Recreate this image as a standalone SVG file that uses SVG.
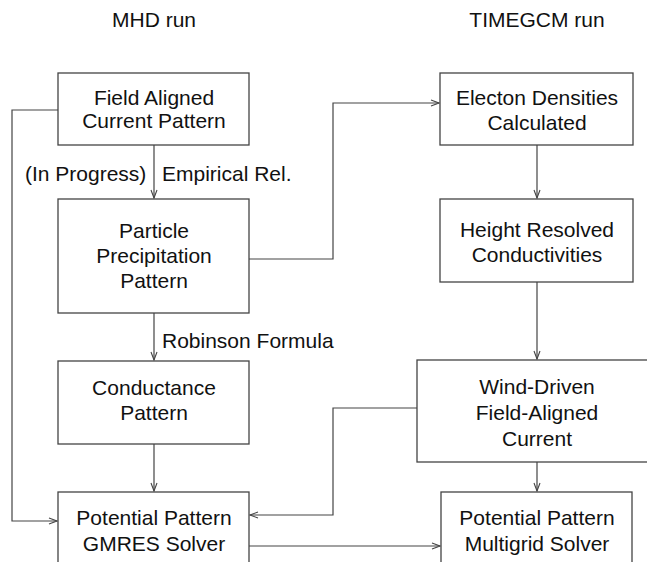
<svg xmlns="http://www.w3.org/2000/svg" width="647" height="562" viewBox="0 0 647 562">
<style>
.box{fill:#fff;stroke:#444;stroke-width:1.3}
.ln{fill:none;stroke:#444;stroke-width:1.2}
text{font-family:"Liberation Sans",Arial,sans-serif;font-size:21px;fill:#111}
.c{text-anchor:middle}
</style>
<defs>
<marker id="ah" markerWidth="10" markerHeight="8" refX="9" refY="4" orient="auto" markerUnits="userSpaceOnUse">
<path d="M1,1 L9,4 L1,7" fill="none" stroke="#444" stroke-width="1.1"/>
</marker>
</defs>
<rect width="647" height="562" fill="#fff"/>
<text class="c" x="154" y="27">MHD run</text>
<text class="c" x="537" y="27">TIMEGCM run</text>
<g id="connectors">
<path class="ln" d="M154,145 V198" marker-end="url(#ah)"/>
<path class="ln" d="M154,313 V360" marker-end="url(#ah)"/>
<path class="ln" d="M154,444 V491" marker-end="url(#ah)"/>
<path class="ln" d="M58,110 H12 V521 H57" marker-end="url(#ah)"/>
<path class="ln" d="M249,259 H333 V103 H439" marker-end="url(#ah)"/>
<path class="ln" d="M537,145 V198" marker-end="url(#ah)"/>
<path class="ln" d="M537,282 V359" marker-end="url(#ah)"/>
<path class="ln" d="M417,408 H333 V515 H250" marker-end="url(#ah)"/>
<path class="ln" d="M537,462 V491" marker-end="url(#ah)"/>
<path class="ln" d="M249,546 H440" marker-end="url(#ah)"/>
<text x="25" y="181">(In Progress)</text>
<text x="162" y="181">Empirical Rel.</text>
<text x="162" y="348">Robinson Formula</text>
</g>
<g id="n-fac">
<rect class="box" x="58" y="73" width="191" height="72"/>
<text class="c" x="154" y="104.5">Field Aligned</text>
<text class="c" x="154" y="128">Current Pattern</text>
</g>
<g id="n-particle">
<rect class="box" x="58" y="199" width="191" height="114"/>
<text class="c" x="154" y="238">Particle</text>
<text class="c" x="154" y="263">Precipitation</text>
<text class="c" x="154" y="288">Pattern</text>
</g>
<g id="n-conductance">
<rect class="box" x="58" y="361" width="191" height="83"/>
<text class="c" x="154" y="395">Conductance</text>
<text class="c" x="154" y="420">Pattern</text>
</g>
<g id="n-gmres">
<rect class="box" x="58" y="492" width="191" height="80"/>
<text class="c" x="154" y="525">Potential Pattern</text>
<text class="c" x="154" y="551">GMRES Solver</text>
</g>
<g id="n-electron">
<rect class="box" x="440" y="73" width="193" height="72"/>
<text class="c" x="537" y="105">Electon Densities</text>
<text class="c" x="537" y="130">Calculated</text>
</g>
<g id="n-height">
<rect class="box" x="440" y="199" width="193" height="83"/>
<text class="c" x="537" y="237">Height Resolved</text>
<text class="c" x="537" y="262">Conductivities</text>
</g>
<g id="n-wind">
<rect class="box" x="417" y="360" width="250" height="102"/>
<text class="c" x="537" y="394">Wind-Driven</text>
<text class="c" x="537" y="420">Field-Aligned</text>
<text class="c" x="537" y="446">Current</text>
</g>
<g id="n-multigrid">
<rect class="box" x="441" y="492" width="191" height="80"/>
<text class="c" x="537" y="525">Potential Pattern</text>
<text class="c" x="537" y="551">Multigrid Solver</text>
</g>
</svg>
